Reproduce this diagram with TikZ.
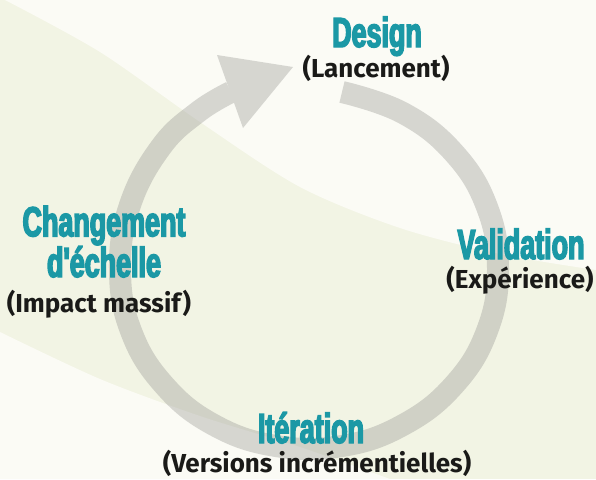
\documentclass[tikz,border=0pt]{standalone}
\usepackage{fontspec}
\setmainfont{Fira Sans}
\newfontfamily\headfont[FakeStretch=0.64, FakeBold=3.5]{Liberation Sans}
\definecolor{cream}{RGB}{242,244,228}
\definecolor{paper}{RGB}{251,251,245}
\definecolor{ringgrey}{RGB}{154,154,150}
\definecolor{stepteal}{RGB}{27,152,165}
\definecolor{inkdark}{RGB}{26,26,24}
\tikzset{
  heading/.style={font=\headfont\bfseries\fontsize{42}{37}\selectfont, text=stepteal, anchor=base, inner sep=0pt},
  subtitle/.style={font=\bfseries\fontsize{26}{26}\selectfont, text=inkdark, anchor=base, inner sep=0pt},
}
\begin{document}
\begin{tikzpicture}[x=1pt, y=-1pt]
  \fill[cream] (0,0) rectangle (596,479);
  \useasboundingbox (0,0) rectangle (596,479);
  % light swathes
  \fill[paper] plot[smooth] coordinates {(5,0) (100,52) (200,122) (300,187) (400,228) (500,254) (596,270)} -- (596,0) -- cycle;
  \fill[paper] plot[smooth] coordinates {(0,332) (100,379) (200,416) (300,447) (390,479)} -- (0,479) -- cycle;
  % cycle arrow
  \begin{scope}[transparency group, opacity=0.38]
    \draw[ringgrey, line width=22pt] plot[smooth, tension=0.7] coordinates {(342,92) (403,113) (454,153) (487,207) (498,269) (487,331) (454,385) (403,425) (342,446) (276,446) (214,425) (164,385) (131,331) (120,269) (130,205) (161,147) (198,112) (231,92)};
    \fill[ringgrey] (217,55) -- (293,67) -- (243,128) -- cycle;
  \end{scope}
  % steps
  \node[heading] (design) at (377,47) {Design};
  \node[subtitle] (design sub) at (376,77) {(Lancement)};
  \node[heading] (valid) at (521,259) {Validation};
  \node[subtitle] (valid sub) at (520,288) {(Expérience)};
  \node[heading] (iter) at (311,443) {Itération};
  \node[subtitle] (iter sub) at (317,472) {(Versions incrémentielles)};
  \node[heading, align=center] (scale) at (104,277) {Changement\\d'échelle};
  \node[subtitle] (scale sub) at (99,312) {(Impact massif)};
\end{tikzpicture}
\end{document}
